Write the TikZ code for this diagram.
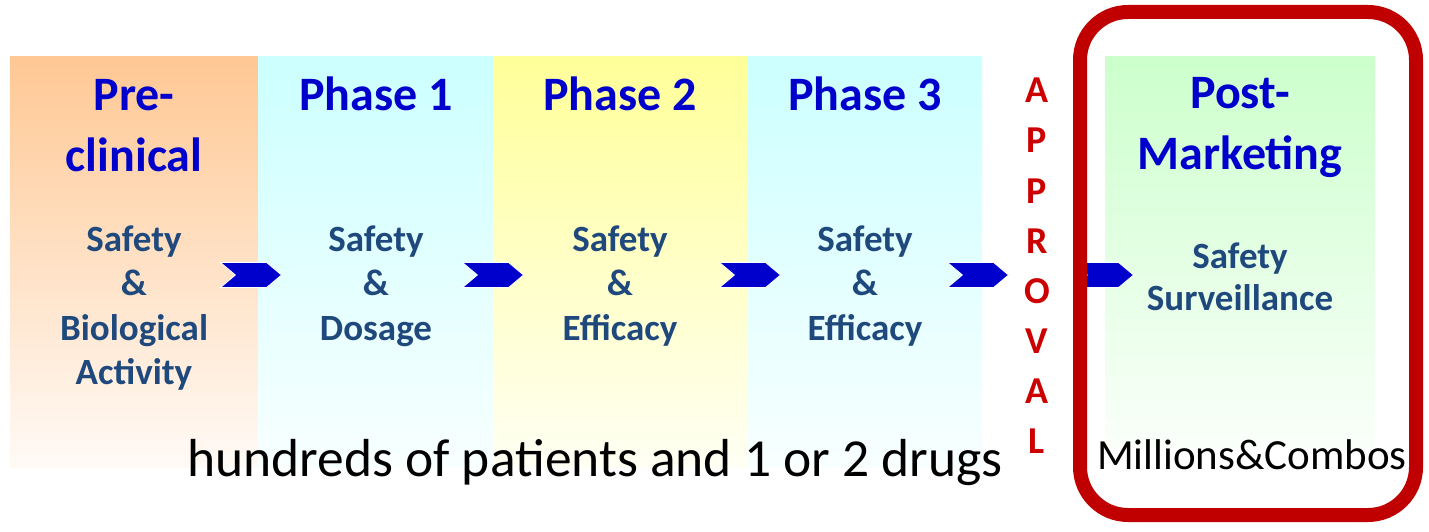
\documentclass[tikz,border=0pt]{standalone}
\usepackage{fontspec}
\setmainfont{Carlito}
\usetikzlibrary{shapes.symbols}

\definecolor{titleblue}{HTML}{0000CC}
\definecolor{subblue}{HTML}{1F497D}
\definecolor{apred}{HTML}{CC0000}
\definecolor{framered}{HTML}{C00000}
\definecolor{chevblue}{HTML}{0000CC}
\definecolor{peachtop}{HTML}{FFC894}
\definecolor{peachmid}{HTML}{FFDDC0}
\definecolor{peachbot}{HTML}{FFFAF6}
\definecolor{cyantop}{HTML}{CCFFFF}
\definecolor{cyanmid}{HTML}{DDFFFF}
\definecolor{cyanbot}{HTML}{F8FFFF}
\definecolor{yeltop}{HTML}{FFFF99}
\definecolor{yelmid}{HTML}{FFFFC0}
\definecolor{yelbot}{HTML}{FFFFF4}
\definecolor{greentop}{HTML}{CCFFCC}
\definecolor{greenmid}{HTML}{DDFFDD}
\definecolor{greenbot}{HTML}{FAFFFA}

\tikzset{
  title/.style={font=\fontsize{48}{52}\selectfont\bfseries, text=titleblue, anchor=base, inner sep=0},
  subtxt/.style={font=\fontsize{37}{40}\selectfont\bfseries, text=subblue, anchor=base, inner sep=0},
  apletter/.style={font=\fontsize{38}{40}\selectfont\bfseries, text=apred, anchor=base, inner sep=0},
  note/.style={font=\fontsize{53.5}{56}\selectfont, text=black, anchor=base, inner sep=0},
  chev/.style={shape=signal, signal from=west, signal to=east, signal pointer angle=80,
    fill=chevblue, draw=white, line width=0.8, minimum width=61, minimum height=25, inner sep=0},
}

\begin{document}
\begin{tikzpicture}[x=1pt, y=-1pt]
\useasboundingbox (0,0) rectangle (1429,532);
\fill[white] (0,0) rectangle (1429,532);

% phase columns
\shade[top color=peachtop, middle color=peachmid, bottom color=peachbot] (10,57) rectangle (258,467);
\shade[top color=cyantop, middle color=cyanmid, bottom color=cyanbot] (258,57) rectangle (493,467);
\shade[top color=yeltop, middle color=yelmid, bottom color=yelbot] (493,57) rectangle (748,467);
\shade[top color=cyantop, middle color=cyanmid, bottom color=cyanbot] (748,57) rectangle (982,467);
\shade[top color=greentop, middle color=greenmid, bottom color=greenbot] (1105,57) rectangle (1375,447);

% titles
\node[title] (pre1) at (134,111) {Pre-};
\node[title] (pre2) at (134,171) {clinical};
\node[title] (ph1) at (376,111) {Phase 1};
\node[title] (ph2) at (620,111) {Phase 2};
\node[title] (ph3) at (865,111) {Phase 3};
\node[title] (pm1) at (1240,109) {Post-};
\node[title] (pm2) at (1240,169) {Marketing};

% descriptions
\node[subtxt] (pa) at (134,251) {Safety};
\node[subtxt] (pb) at (134,295) {\&};
\node[subtxt] (pc) at (134,340) {Biological};
\node[subtxt] (pd) at (134,384) {Activity};

\node[subtxt] (qa) at (376,251) {Safety};
\node[subtxt] (qb) at (376,295) {\&};
\node[subtxt] (qc) at (376,340) {Dosage};

\node[subtxt] (ra) at (620,251) {Safety};
\node[subtxt] (rb) at (620,295) {\&};
\node[subtxt] (rc) at (620,340) {Efficacy};

\node[subtxt] (sa) at (865,251) {Safety};
\node[subtxt] (sb) at (865,295) {\&};
\node[subtxt] (sc) at (865,340) {Efficacy};

\node[subtxt] (ta) at (1240,268) {Safety};
\node[subtxt] (tb) at (1240,310) {Surveillance};

% approval letters
\foreach \ch [count=\i] in {A,P,P,R,O,V,A,L}
  \node[apletter] (ap\i) at (1037,{53+50*\i}) {\ch};

% chevrons between the stages
\node[chev] (c1) at (251,275) {};
\node[chev] (c2) at (493,275) {};
\node[chev] (c3) at (750,275) {};
\node[chev] (c4) at (978,275) {};
\node[chev] (c5) at (1103,275) {};

% post-marketing frame
\draw[framered, line width=14, rounded corners=48] (1080,12) rectangle (1416,515);

% bottom notes
\node[note] (hund) at (595,476) {hundreds of patients and 1 or 2 drugs};
\node[note, font=\fontsize{43}{46}\selectfont] (mill) at (1252,469) {Millions\&Combos};
\end{tikzpicture}
\end{document}
